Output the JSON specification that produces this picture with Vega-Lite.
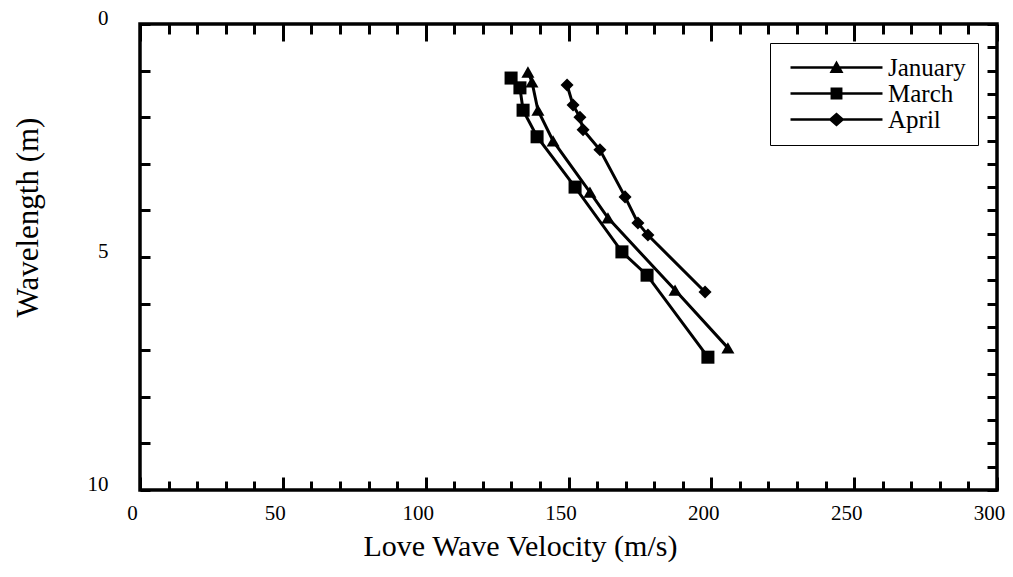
{
  "$schema": "https://vega.github.io/schema/vega-lite/v6.json",
  "width": 857,
  "height": 466,
  "autosize": {"type": "none"},
  "padding": {"left": 140, "top": 24, "right": 16, "bottom": 87},
  "background": "white",
  "config": {
    "view": {"stroke": "black", "strokeWidth": 3.5}
  },
  "data": {
    "values": [
      {"month": "January", "v": 135.8, "w": 1.03},
      {"month": "January", "v": 137.2, "w": 1.24},
      {"month": "January", "v": 139.3, "w": 1.85},
      {"month": "January", "v": 144.6, "w": 2.51},
      {"month": "January", "v": 157.5, "w": 3.61},
      {"month": "January", "v": 163.8, "w": 4.16},
      {"month": "January", "v": 187.3, "w": 5.71},
      {"month": "January", "v": 205.8, "w": 6.95},
      {"month": "March", "v": 129.9, "w": 1.16},
      {"month": "March", "v": 133.0, "w": 1.37},
      {"month": "March", "v": 134.1, "w": 1.85},
      {"month": "March", "v": 139.0, "w": 2.42},
      {"month": "March", "v": 152.3, "w": 3.50},
      {"month": "March", "v": 168.7, "w": 4.89},
      {"month": "March", "v": 177.5, "w": 5.39},
      {"month": "March", "v": 198.8, "w": 7.15},
      {"month": "April", "v": 149.5, "w": 1.31},
      {"month": "April", "v": 151.6, "w": 1.74},
      {"month": "April", "v": 154.0, "w": 2.00},
      {"month": "April", "v": 155.1, "w": 2.27},
      {"month": "April", "v": 161.0, "w": 2.70},
      {"month": "April", "v": 169.8, "w": 3.71},
      {"month": "April", "v": 174.3, "w": 4.27},
      {"month": "April", "v": 177.8, "w": 4.53},
      {"month": "April", "v": 197.8, "w": 5.75}
    ]
  },
  "layer": [
    {
      "mark": {"type": "line", "color": "black", "strokeWidth": 3},
      "encoding": {
        "x": {
          "field": "v", "type": "quantitative",
          "scale": {"domain": [0, 300], "nice": false, "zero": false},
          "axis": {
            "orient": "bottom",
            "domain": false, "grid": false,
            "tickColor": "black", "tickWidth": 3,
            "labelColor": "black", "labelFont": "Liberation Serif", "labelFontSize": 21,
            "labelFlush": false, "labelOverlap": false, "format": "d",
            "title": "Love Wave Velocity (m/s)",
            "titleColor": "black", "titleFont": "Liberation Serif", "titleFontWeight": "normal",
            "titleFontSize": 30,
            "titleX": 380,
            "titleY": 65,
            "titleAlign": "center",
            "titleBaseline": "alphabetic",
            "values": [0,10,20,30,40,50,60,70,80,90,100,110,120,130,140,150,160,170,180,190,200,210,220,230,240,250,260,270,280,290,300],
            "labelExpr": "datum.value % 50 === 0 ? datum.label : ''",
            "tickSize": {"condition": {"test": "datum.value % 50 === 0", "value": -13}, "value": -9},
            "labelPadding": 25,
            "labelOffset": -8
          }
        },
        "y": {
          "field": "w", "type": "quantitative",
          "scale": {"domain": [0, 10], "reverse": true, "nice": false, "zero": false},
          "axis": {
            "orient": "left",
            "domain": false, "grid": false,
            "tickColor": "black", "tickWidth": 3,
            "labelColor": "black", "labelFont": "Liberation Serif", "labelFontSize": 21,
            "labelFlush": false, "labelOverlap": false, "format": "d",
            "title": "Wavelength (m)",
            "titleColor": "black", "titleFont": "Liberation Serif", "titleFontWeight": "normal",
            "titleFontSize": 31,
            "titleX": -112,
            "titleY": 193,
            "titleAlign": "center",
            "titleBaseline": "middle",
            "titleAngle": -90,
            "values": [0,0.5,1,1.5,2,2.5,3,3.5,4,4.5,5,5.5,6,6.5,7,7.5,8,8.5,9,9.5,10],
            "labelExpr": "datum.value % 5 === 0 ? datum.label : ''",
            "tickSize": -10,
            "labelPadding": 42,
            "labelOffset": -6
          }
        },
        "detail": {"field": "month"},
        "order": {"field": "w"}
      }
    },
    {
      "mark": {"type": "point", "filled": true, "color": "black", "opacity": 1, "size": 170},
      "encoding": {
        "x": {
          "field": "v", "type": "quantitative",
          "axis": {
            "orient": "top", "title": null, "labels": false,
            "domain": false, "grid": false,
            "tickColor": "black", "tickWidth": 3,
            "values": [0,10,20,30,40,50,60,70,80,90,100,110,120,130,140,150,160,170,180,190,200,210,220,230,240,250,260,270,280,290,300],
            "tickSize": {"condition": {"test": "datum.value % 50 === 0", "value": -17}, "value": -10}
          }
        },
        "y": {
          "field": "w", "type": "quantitative",
          "axis": {
            "orient": "right", "title": null, "labels": false,
            "domain": false, "grid": false,
            "tickColor": "black", "tickWidth": 3,
            "values": [0,0.5,1,1.5,2,2.5,3,3.5,4,4.5,5,5.5,6,6.5,7,7.5,8,8.5,9,9.5,10],
            "tickSize": -10
          }
        },
        "shape": {
          "field": "month", "type": "nominal",
          "scale": {"domain": ["January", "March", "April"], "range": ["triangle-up", "square", "diamond"]},
          "legend": null
        }
      }
    },
    {
      "mark": {"type": "point", "filled": true, "color": "black", "opacity": 0, "size": 196},
      "encoding": {
        "x": {"field": "v", "type": "quantitative", "axis": null},
        "y": {"field": "w", "type": "quantitative", "axis": null},
        "shape": {
          "field": "month", "type": "nominal",
          "scale": {
            "domain": ["January", "March", "April"],
            "range": [
              "M-0.57,-0.18H12.57V0.18H-0.57Z M6,-1L7,0.8L5,0.8Z",
              "M-0.57,-0.18H12.57V0.18H-0.57Z M5.15,-0.85H6.85V0.85H5.15Z",
              "M-0.57,-0.18H12.57V0.18H-0.57Z M6,-1L7.15,0L6,1L4.85,0Z"
            ]
          },
          "legend": {
            "title": null,
            "orient": "none",
            "legendX": 630,
            "legendY": 19,
            "padding": 12,
            "rowPadding": 0,
            "strokeColor": "black",
            "fillColor": "white",
            "symbolSize": 196,
            "symbolOpacity": 1,
            "symbolFillColor": "black",
            "symbolStrokeWidth": 0,
            "labelFont": "Liberation Serif",
            "labelFontSize": 25,
            "labelColor": "black",
            "labelOffset": 81,
            "labelLimit": 200,
            "encode": {"legend": {"update": {"strokeWidth": {"value": 2.5}}}}
          }
        }
      }
    }
  ],
  "resolve": {
    "scale": {"shape": "independent"},
    "axis": {"x": "independent", "y": "independent"}
  }
}
